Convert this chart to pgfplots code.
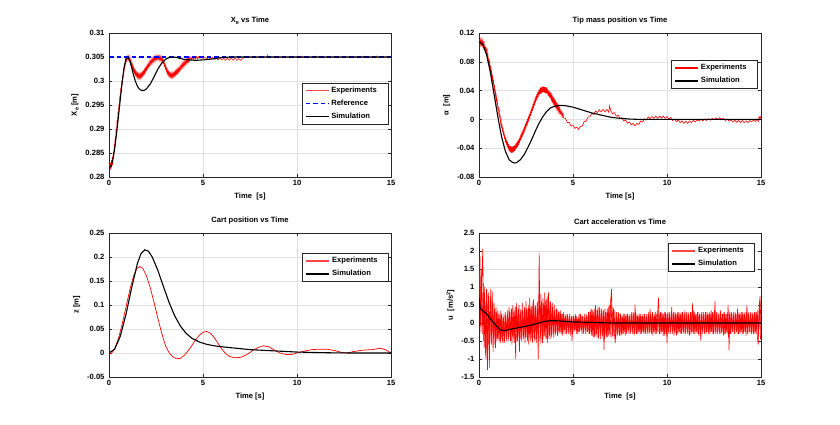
\documentclass[border=0pt]{standalone}
\usepackage{fontspec}
\setmainfont{Liberation Sans}
\usepackage{graphicx}
\usepackage{pgfplots}
\pgfplotsset{compat=1.18}
\definecolor{axgray}{RGB}{38,38,38}
\definecolor{gridgray}{RGB}{225,225,225}
\definecolor{mred}{RGB}{255,0,0}
\definecolor{lred}{RGB}{255,70,70}
\definecolor{mblue}{RGB}{0,0,255}
\pgfplotsset{
  mat/.style={
    scale only axis, width=282pt, height=144pt,
    xmin=0,xmax=15, xtick={0,5,10,15},
    axis line style={color=axgray, line width=0.8pt},
    tick style={color=axgray, line width=0.6pt},
    tick align=inside, major tick length=3pt,
    grid=major, major grid style={color=gridgray, line width=0.6pt},
    ticklabel style={font=\fontsize{7.6}{8}\selectfont\bfseries},
    yticklabel style={xshift=-1pt},
    /pgf/number format/assume math mode=true,
    label style={font=\fontsize{7.6}{8}\selectfont\bfseries},
    title style={font=\fontsize{7.6}{8}\selectfont\bfseries, yshift=-1pt},
    legend style={draw=axgray, line width=0.6pt, fill=white,
      font=\fontsize{7.6}{8}\selectfont\bfseries, cells={anchor=west},
      inner xsep=3pt, inner ysep=2pt, row sep=2pt},
    legend image code/.code={\draw[#1] (0pt,0pt) -- (23pt,0pt);},
    scaled ticks=false,
  },
  expl/.style={color=mred, line width=0.5pt},
  siml/.style={color=black, line width=1.1pt},
}
\newcommand{\lpad}{\hspace*{6pt}}
\newcommand{\sube}{\raisebox{-1.6pt}{\scalebox{0.72}{e}}}
\newcommand{\suptwo}{\raisebox{2.6pt}{\scalebox{0.72}{2}}}
\begin{document}
\begin{tikzpicture}
\path[use as bounding box] (0,0) rectangle (840pt,424pt);

% ---------------- X_e vs Time ----------------
\begin{axis}[mat, at={(109pt,247pt)}, anchor=south west,
  ymin=0.28, ymax=0.31,
  ytick={0.28,0.285,0.29,0.295,0.3,0.305,0.31},
  yticklabels={0.28,0.285,0.29,0.295,0.3,0.305,0.31},
  title={X\sube\ vs Time},
  xlabel={Time\ \ [s]}, ylabel={X\sube\ [m]},
  legend style={at={(0.99,0.653)}, anchor=north east}]
\addplot[expl, forget plot] coordinates {
(0.000,0.2820)(0.025,0.2828)(0.050,0.2816)(0.075,0.2830)(0.100,0.2815)(0.125,0.2835)(0.150,0.2820)(0.175,0.2842)(0.200,0.2825)(0.225,0.2852)
(0.250,0.2840)(0.275,0.2868)(0.300,0.2855)(0.325,0.2884)(0.350,0.2873)(0.375,0.2900)(0.400,0.2890)(0.425,0.2918)(0.450,0.2908)(0.475,0.2935)
(0.500,0.2926)(0.525,0.2953)(0.550,0.2944)(0.575,0.2970)(0.600,0.2961)(0.625,0.2986)(0.650,0.2976)(0.675,0.2999)(0.700,0.2990)(0.725,0.3012)
(0.750,0.3005)(0.775,0.3025)(0.800,0.3018)(0.825,0.3036)(0.850,0.3029)(0.875,0.3044)(0.900,0.3038)(0.925,0.3049)(0.950,0.3043)(0.975,0.3051)
(1.000,0.3046)(1.025,0.3052)(1.050,0.3044)(1.075,0.3050)(1.100,0.3041)(1.125,0.3047)(1.150,0.3036)(1.175,0.3042)(1.200,0.3031)(1.225,0.3037)
(1.250,0.3026)(1.275,0.3032)(1.300,0.3021)(1.325,0.3027)(1.350,0.3017)(1.375,0.3023)(1.400,0.3013)(1.425,0.3020)(1.450,0.3011)(1.475,0.3017)
(1.500,0.3008)(1.525,0.3016)(1.550,0.3007)(1.575,0.3015)(1.600,0.3006)(1.625,0.3014)(1.650,0.3006)(1.675,0.3015)(1.700,0.3007)(1.725,0.3016)
(1.750,0.3009)(1.775,0.3018)(1.800,0.3011)(1.825,0.3020)(1.850,0.3014)(1.875,0.3023)(1.900,0.3016)(1.925,0.3026)(1.950,0.3020)(1.975,0.3029)
(2.000,0.3023)(2.025,0.3032)(2.050,0.3026)(2.075,0.3035)(2.100,0.3029)(2.125,0.3038)(2.150,0.3031)(2.175,0.3041)(2.200,0.3034)(2.225,0.3043)
(2.250,0.3036)(2.275,0.3045)(2.300,0.3038)(2.325,0.3047)(2.350,0.3040)(2.375,0.3049)(2.400,0.3042)(2.425,0.3050)(2.450,0.3043)(2.475,0.3051)
(2.500,0.3044)(2.525,0.3052)(2.550,0.3045)(2.575,0.3052)(2.600,0.3046)(2.625,0.3052)(2.650,0.3045)(2.675,0.3052)(2.700,0.3044)(2.725,0.3051)
(2.750,0.3043)(2.775,0.3050)(2.800,0.3043)(2.825,0.3049)(2.850,0.3039)(2.875,0.3046)(2.900,0.3036)(2.925,0.3041)(2.950,0.3031)(2.975,0.3036)
(3.000,0.3026)(3.025,0.3031)(3.050,0.3021)(3.075,0.3026)(3.100,0.3016)(3.125,0.3022)(3.150,0.3013)(3.175,0.3019)(3.200,0.3010)(3.225,0.3017)
(3.250,0.3009)(3.275,0.3016)(3.300,0.3008)(3.325,0.3016)(3.350,0.3008)(3.375,0.3016)(3.400,0.3008)(3.425,0.3017)(3.450,0.3010)(3.475,0.3018)
(3.500,0.3011)(3.525,0.3020)(3.550,0.3013)(3.575,0.3022)(3.600,0.3015)(3.625,0.3024)(3.650,0.3016)(3.675,0.3025)(3.700,0.3018)(3.725,0.3027)
(3.750,0.3021)(3.775,0.3030)(3.800,0.3023)(3.825,0.3032)(3.850,0.3026)(3.875,0.3035)(3.900,0.3028)(3.925,0.3037)(3.950,0.3030)(3.975,0.3039)
(4.000,0.3032)(4.025,0.3041)(4.050,0.3034)(4.075,0.3043)(4.100,0.3036)(4.125,0.3045)(4.150,0.3038)(4.175,0.3047)(4.200,0.3039)(4.225,0.3048)
(4.250,0.3041)(4.275,0.3049)(4.300,0.3042)(4.350,0.3050)(4.400,0.3044)(4.450,0.3050)(4.500,0.3045)(4.550,0.3051)(4.600,0.3046)(4.650,0.3051)
(4.700,0.3046)(4.750,0.3051)(4.800,0.3047)(4.850,0.3051)(4.900,0.3047)(4.950,0.3051)(5.000,0.3047)(5.100,0.3050)(5.200,0.3046)(5.300,0.3050)
(5.400,0.3045)(5.500,0.3049)(5.600,0.3045)(5.700,0.3049)(5.800,0.3044)(5.900,0.3049)(6.000,0.3044)(6.100,0.3048)(6.200,0.3043)(6.300,0.3048)
(6.400,0.3043)(6.500,0.3048)(6.600,0.3043)(6.700,0.3048)(6.800,0.3043)(6.900,0.3047)(7.000,0.3043)(7.100,0.3047)(7.200,0.3050)(7.500,0.3050)
(8.000,0.3050)(8.400,0.3050)(8.420,0.3054)(8.450,0.3048)(8.500,0.3050)(9.000,0.3050)(10.200,0.3050)(10.220,0.3052)(10.250,0.3049)(11.000,0.3050)
(11.020,0.3052)(11.050,0.3050)(13.500,0.3050)(13.520,0.3052)(13.550,0.3050)(14.200,0.3050)(14.220,0.3052)(14.250,0.3050)(15.000,0.3050)
};
\addplot[color=mblue, line width=1.2pt, dash pattern=on 4.5pt off 3pt, forget plot] coordinates {(0,0.305)(15,0.305)};
\addplot[siml, forget plot] coordinates {
(0.0,0.2820)(0.1,0.2822)(0.2,0.2835)(0.3,0.2858)(0.4,0.2890)(0.5,0.2925)(0.6,0.2962)(0.7,0.2998)(0.8,0.3028)(0.9,0.3046)
(1.0,0.3050)(1.1,0.3043)(1.2,0.3029)(1.3,0.3013)(1.4,0.3000)(1.5,0.2990)(1.6,0.2984)(1.7,0.2981)(1.8,0.2980)(1.9,0.2981)
(2.0,0.2984)(2.2,0.2994)(2.4,0.3009)(2.6,0.3025)(2.8,0.3037)(3.0,0.3045)(3.2,0.3049)(3.4,0.3050)(3.6,0.3049)(3.8,0.3047)
(4.0,0.3045)(4.3,0.3044)(4.6,0.3043)(5.0,0.3044)(5.5,0.3046)(6.0,0.3049)(6.5,0.3050)(15.0,0.3050)
};
\addlegendimage{color=lred, line width=1.4pt}
\addlegendentry{Experiments\lpad}
\addlegendimage{color=mblue, line width=1.4pt, dash pattern=on 4.5pt off 3pt}
\addlegendentry{Reference\lpad}
\addlegendimage{color=black, line width=1.4pt}
\addlegendentry{Simulation\lpad}
\end{axis}

% ---------------- Tip mass position ----------------
\begin{axis}[mat, at={(479pt,247pt)}, anchor=south west,
  ymin=-0.08, ymax=0.12,
  ytick={-0.08,-0.04,0,0.04,0.08,0.12},
  yticklabels={-0.08,-0.04,0,0.04,0.08,0.12},
  title={Tip mass position vs Time},
  xlabel={Time [s]}, ylabel={α\ \ [m]},
  legend style={at={(0.989,0.8125)}, anchor=north east}]
\addplot[color=mred, line width=0.6pt, forget plot] coordinates {
(0.000,0.1070)(0.025,0.1099)(0.050,0.1048)(0.075,0.1106)(0.100,0.1035)(0.125,0.1094)(0.150,0.1023)(0.175,0.1091)(0.200,0.1030)(0.225,0.1086)
(0.250,0.1003)(0.275,0.1049)(0.300,0.0965)(0.325,0.1021)(0.350,0.0938)(0.375,0.1004)(0.400,0.0920)(0.425,0.0961)(0.450,0.0853)(0.475,0.0894)
(0.500,0.0795)(0.525,0.0846)(0.550,0.0748)(0.575,0.0789)(0.600,0.0680)(0.625,0.0716)(0.650,0.0613)(0.675,0.0659)(0.700,0.0555)(0.725,0.0591)
(0.750,0.0478)(0.775,0.0524)(0.800,0.0420)(0.825,0.0456)(0.850,0.0343)(0.875,0.0379)(0.900,0.0275)(0.925,0.0321)(0.950,0.0218)(0.975,0.0254)
(1.000,0.0140)(1.025,0.0188)(1.050,0.0085)(1.075,0.0123)(1.100,0.0010)(1.125,0.0058)(1.150,-0.0055)(1.175,-0.0018)(1.200,-0.0120)(1.225,-0.0065)
(1.250,-0.0170)(1.275,-0.0115)(1.300,-0.0220)(1.325,-0.0165)(1.350,-0.0270)(1.375,-0.0215)(1.400,-0.0320)(1.425,-0.0255)(1.450,-0.0350)(1.475,-0.0285)
(1.500,-0.0380)(1.525,-0.0315)(1.550,-0.0410)(1.575,-0.0345)(1.600,-0.0440)(1.625,-0.0363)(1.650,-0.0447)(1.675,-0.0370)(1.700,-0.0463)(1.725,-0.0377)
(1.750,-0.0460)(1.775,-0.0377)(1.800,-0.0463)(1.825,-0.0370)(1.850,-0.0447)(1.875,-0.0363)(1.900,-0.0440)(1.925,-0.0350)(1.950,-0.0420)(1.975,-0.0330)
(2.000,-0.0400)(2.025,-0.0310)(2.050,-0.0380)(2.075,-0.0290)(2.100,-0.0360)(2.125,-0.0266)(2.150,-0.0332)(2.175,-0.0238)(2.200,-0.0303)(2.225,-0.0209)
(2.250,-0.0275)(2.275,-0.0181)(2.300,-0.0247)(2.325,-0.0153)(2.350,-0.0218)(2.375,-0.0124)(2.400,-0.0190)(2.425,-0.0093)(2.450,-0.0157)(2.475,-0.0060)
(2.500,-0.0123)(2.525,-0.0027)(2.550,-0.0090)(2.575,0.0007)(2.600,-0.0057)(2.625,0.0040)(2.650,-0.0023)(2.675,0.0073)(2.700,0.0010)(2.725,0.0108)
(2.750,0.0047)(2.775,0.0145)(2.800,0.0083)(2.825,0.0182)(2.850,0.0120)(2.875,0.0218)(2.900,0.0157)(2.925,0.0255)(2.950,0.0193)(2.975,0.0292)
(3.000,0.0230)(3.025,0.0324)(3.050,0.0258)(3.075,0.0351)(3.100,0.0285)(3.125,0.0379)(3.150,0.0313)(3.175,0.0406)(3.200,0.0340)(3.225,0.0425)
(3.250,0.0350)(3.275,0.0445)(3.300,0.0360)(3.325,0.0445)(3.350,0.0370)(3.375,0.0455)(3.400,0.0380)(3.425,0.0458)(3.450,0.0375)(3.475,0.0453)
(3.500,0.0370)(3.525,0.0448)(3.550,0.0365)(3.575,0.0443)(3.600,0.0360)(3.625,0.0431)(3.650,0.0343)(3.675,0.0414)(3.700,0.0325)(3.725,0.0396)
(3.750,0.0308)(3.775,0.0379)(3.800,0.0290)(3.825,0.0349)(3.850,0.0278)(3.875,0.0326)(3.900,0.0255)(3.925,0.0304)(3.950,0.0233)(3.975,0.0281)
(4.000,0.0210)(4.025,0.0260)(4.050,0.0190)(4.075,0.0240)(4.100,0.0170)(4.125,0.0220)(4.150,0.0150)(4.175,0.0200)(4.200,0.0130)(4.225,0.0180)
(4.250,0.0110)(4.275,0.0160)(4.300,0.0090)(4.325,0.0130)(4.350,0.0080)(4.375,0.0110)(4.400,0.0060)(4.425,0.0090)(4.450,0.0040)(4.475,0.0070)
(4.500,0.0020)(4.60,0.0015)(4.70,-0.0045)(4.80,-0.004)(4.90,-0.0095)(5.00,-0.008)(5.10,-0.0125)(5.20,-0.0105)(5.30,-0.014)(5.40,-0.0095)
(5.50,-0.009)(5.60,-0.0025)(5.70,-0.0025)(5.80,0.0035)(5.90,0.0035)(6.00,0.0085)(6.10,0.0068)(6.20,0.0115)(6.30,0.0095)(6.40,0.0135)
(6.50,0.0105)(6.60,0.014)(6.70,0.0105)(6.80,0.014)(6.90,0.010)(6.95,0.019)(7.00,0.0125)(7.10,0.0078)(7.20,0.0095)(7.30,0.0045)
(7.40,0.006)(7.50,0.0012)(7.60,0.0025)(7.70,-0.002)(7.80,-0.001)(7.90,-0.0055)(8.00,-0.0035)(8.10,-0.0075)(8.20,-0.0055)(8.30,-0.009)
(8.40,-0.0055)(8.50,-0.007)(8.60,-0.002)(8.70,-0.0035)(8.80,0.0008)(8.90,-0.0008)(9.00,0.0035)(9.10,0.001)(9.20,0.004)(9.30,0.0015)
(9.40,0.0045)(9.50,0.0015)(9.60,0.0045)(9.70,0.002)(9.80,0.0045)(9.90,0.0015)(10.00,0.004)(10.10,0.0005)(10.20,0.0025)(10.30,-0.0015)
(10.40,0.0005)(10.50,-0.003)(10.60,-0.001)(10.70,-0.0045)(10.80,-0.002)(10.90,-0.0055)(11.00,-0.0025)(11.10,-0.0055)(11.20,-0.002)(11.30,-0.0045)
(11.40,-0.001)(11.50,-0.0035)(11.60,-0.0005)(11.70,-0.0025)(11.80,0.0005)(11.90,-0.002)(12.00,0.0005)(12.10,-0.0015)(12.20,0.001)(12.30,-0.001)
(12.40,0.0015)(12.50,-0.0005)(12.60,0.002)(12.70,0.000)(12.80,0.0025)(12.90,0.000)(13.00,0.0015)(13.10,-0.0015)(13.20,0.0005)(13.30,-0.0025)
(13.40,-0.0005)(13.50,-0.0035)(13.60,-0.001)(13.70,-0.004)(13.80,-0.0015)(13.90,-0.0045)(14.00,-0.0015)(14.10,-0.0045)(14.20,-0.002)(14.30,-0.0045)
(14.40,-0.0015)(14.50,-0.0035)(14.60,-0.001)(14.70,-0.003)(14.80,0.000)(14.85,-0.003)(14.90,0.004)(14.95,0.001)(15.00,0.005)
};
\addplot[siml, forget plot] coordinates {
(0.0,0.108)(0.2,0.104)(0.4,0.090)(0.6,0.066)(0.8,0.035)(1.0,0.004)(1.2,-0.024)(1.4,-0.044)(1.6,-0.056)(1.8,-0.060)
(1.9,-0.0605)(2.0,-0.060)(2.2,-0.056)(2.4,-0.049)(2.6,-0.039)(2.8,-0.028)(3.0,-0.016)(3.2,-0.005)(3.4,0.004)(3.6,0.011)
(3.8,0.016)(4.0,0.018)(4.3,0.0195)(4.6,0.019)(5.0,0.017)(5.5,0.013)(6.0,0.009)(6.5,0.006)(7.0,0.003)(7.5,0.0015)
(8.0,0.0005)(8.5,0.0)(15.0,0.0)
};
\addlegendimage{color=mred, line width=1.6pt}
\addlegendentry{Experiments\lpad}
\addlegendimage{color=black, line width=1.4pt}
\addlegendentry{Simulation\lpad}
\end{axis}

% ---------------- Cart position ----------------
\begin{axis}[mat, at={(109pt,47pt)}, anchor=south west,
  ymin=-0.05, ymax=0.25,
  ytick={-0.05,0,0.05,0.1,0.15,0.2,0.25},
  yticklabels={-0.05,0,0.05,0.1,0.15,0.2,0.25},
  title={Cart position vs Time},
  xlabel={Time [s]}, ylabel={z [m]},
  legend style={at={(0.993,0.861)}, anchor=north east}]
\addplot[expl, line width=0.7pt, forget plot] coordinates {
(0.0,0.000)(0.1,-0.002)(0.3,0.008)(0.5,0.030)(0.7,0.060)(0.9,0.095)(1.1,0.130)(1.3,0.160)(1.5,0.177)(1.65,0.180)
(1.8,0.176)(2.0,0.160)(2.2,0.135)(2.4,0.105)(2.6,0.072)(2.8,0.042)(3.0,0.016)(3.2,0.000)(3.4,-0.008)(3.6,-0.012)
(3.8,-0.011)(4.0,-0.005)(4.2,0.004)(4.4,0.015)(4.6,0.027)(4.8,0.037)(5.0,0.043)(5.2,0.045)(5.4,0.041)(5.6,0.032)
(5.8,0.020)(6.0,0.008)(6.2,-0.001)(6.4,-0.007)(6.7,-0.010)(7.0,-0.009)(7.3,-0.004)(7.6,0.004)(7.9,0.011)(8.2,0.015)
(8.5,0.013)(8.8,0.006)(9.1,0.000)(9.4,-0.003)(9.7,-0.003)(10.0,0.000)(10.4,0.004)(10.8,0.007)(11.2,0.008)(11.6,0.008)
(12.0,0.005)(12.4,0.001)(12.7,0.000)(13.0,0.003)(13.5,0.006)(14.0,0.007)(14.4,0.010)(14.7,0.007)(15.0,0.000)
};
\addplot[siml, forget plot] coordinates {
(0.0,0.000)(0.3,0.008)(0.6,0.035)(0.9,0.080)(1.2,0.135)(1.5,0.185)(1.7,0.207)(1.9,0.215)(2.1,0.212)(2.3,0.200)
(2.6,0.172)(2.9,0.138)(3.2,0.105)(3.5,0.077)(3.8,0.056)(4.1,0.041)(4.4,0.031)(4.8,0.023)(5.2,0.018)(5.6,0.015)
(6.0,0.013)(6.5,0.011)(7.0,0.009)(7.5,0.007)(8.0,0.006)(9.0,0.004)(10.0,0.002)(11.0,0.001)(12.0,0.0003)(13.0,0.0)(15.0,0.0)
};
\addlegendimage{color=lred, line width=1.4pt}
\addlegendentry{Experiments\lpad}
\addlegendimage{color=black, line width=1.4pt}
\addlegendentry{Simulation\lpad}
\end{axis}

% ---------------- Cart acceleration ----------------
\begin{axis}[mat, at={(479pt,47pt)}, anchor=south west,
  ymin=-1.5, ymax=2.5,
  ytick={-1.5,-1,-0.5,0,0.5,1,1.5,2,2.5},
  yticklabels={-1.5,-1,-0.5,0,0.5,1,1.5,2,2.5},
  title={Cart acceleration vs Time},
  xlabel={Time\ \ [s]}, ylabel={u\ \ [m/s\suptwo]},
  legend style={at={(0.979,0.93)}, anchor=north east}]
\addplot[expl, line width=0.6pt, forget plot] coordinates {
(0.00,0.70)(0.05,1.85)(0.10,-0.25)(0.15,1.20)(0.20,2.05)(0.25,-0.50)(0.30,1.00)(0.35,-0.90)(0.40,0.95)(0.45,-1.30)
(0.50,0.85)(0.55,-1.25)(0.60,0.75)(0.65,-0.55)(0.70,0.90)(0.75,-0.80)(0.80,0.55)(0.85,-0.60)(0.90,0.45)(0.95,-0.50)
(1.00,0.35)(1.05,-0.45)(1.10,0.20)(1.15,-0.55)(1.20,0.25)(1.25,-0.50)(1.30,0.15)(1.35,-0.55)(1.40,0.30)(1.45,-0.45)
(1.50,0.25)(1.55,-0.50)(1.60,0.45)(1.65,-0.40)(1.70,0.30)(1.75,-0.60)(1.80,0.50)(1.85,-0.45)(1.90,0.35)(1.95,-1.00)
(2.00,0.55)(2.05,-0.50)(2.10,0.40)(2.15,-0.80)(2.20,0.30)(2.25,-0.45)(2.30,0.55)(2.35,-0.40)(2.40,0.35)(2.45,-0.55)
(2.50,0.60)(2.55,-0.40)(2.60,0.40)(2.65,-0.60)(2.70,0.70)(2.75,-0.50)(2.80,0.45)(2.85,-0.55)(2.90,0.65)(2.95,-0.45)
(3.00,0.50)(3.05,-0.55)(3.10,0.55)(3.15,-1.00)(3.20,1.95)(3.25,-0.60)(3.30,0.80)(3.35,-0.50)(3.40,0.70)(3.45,-0.45)
(3.50,0.85)(3.55,-0.40)(3.60,0.65)(3.65,-0.55)(3.70,0.85)(3.75,-0.35)(3.80,0.60)(3.85,-0.40)(3.90,0.55)(3.95,-0.30)
(4.00,0.50)(4.05,-0.35)(4.10,0.40)(4.15,-0.25)(4.20,0.35)(4.25,-0.30)(4.30,0.30)(4.35,-0.25)(4.40,0.25)(4.45,-0.35)
(4.50,0.30)(4.55,-0.20)(4.60,0.20)(4.65,-0.30)(4.70,0.25)(4.75,-0.25)(4.80,0.20)(4.85,-0.35)(4.90,0.15)(4.95,-0.50)
(5.00,0.20)(5.05,-0.25)(5.10,0.15)(5.15,-0.20)(5.20,0.20)(5.25,-0.30)(5.30,0.15)(5.35,-0.25)(5.40,0.25)(5.45,-0.20)
(5.50,0.20)(5.55,-0.30)(5.60,0.15)(5.65,-0.20)(5.70,0.25)(5.75,-0.25)(5.80,0.20)(5.85,-0.30)(5.90,0.30)(5.95,-0.25)
(6.00,0.40)(6.05,-0.35)(6.10,0.30)(6.15,-0.40)(6.20,0.50)(6.25,-0.30)(6.30,0.35)(6.35,-0.45)(6.40,0.45)(6.45,-0.35)
(6.50,0.35)(6.55,-0.40)(6.60,0.30)(6.65,-0.75)(6.70,0.40)(6.75,-0.35)(6.80,0.30)(6.85,-0.40)(6.90,0.45)(6.95,-0.30)
(7.00,0.55)(7.05,0.95)(7.10,-0.35)(7.15,0.40)(7.20,-0.30)(7.25,-0.55)(7.30,0.30)(7.35,-0.35)(7.40,0.25)(7.45,-0.30)
(7.50,0.25)(7.55,-0.35)(7.60,0.20)(7.65,-0.30)(7.70,0.25)(7.75,-0.25)(7.80,0.20)(7.85,-0.30)(7.90,0.25)(7.95,-0.20)
(8.00,0.20)(8.05,-0.30)(8.10,0.25)(8.15,-0.25)(8.20,0.30)(8.25,-0.35)(8.30,0.50)(8.35,-0.25)(8.40,0.25)(8.45,-0.30)
(8.50,0.20)(8.55,-0.25)(8.60,0.25)(8.65,-0.30)(8.70,0.20)(8.75,-0.25)(8.80,0.25)(8.85,-0.30)(8.90,0.20)(8.95,-0.25)
(9.00,0.25)(9.05,-0.30)(9.10,0.40)(9.15,-0.25)(9.20,0.25)(9.25,-0.35)(9.30,0.20)(9.35,-0.25)(9.40,0.30)(9.45,-0.30)
(9.50,0.25)(9.55,0.70)(9.60,-0.30)(9.65,0.30)(9.70,-0.25)(9.75,0.25)(9.80,-0.35)(9.85,0.30)(9.90,-0.30)(9.95,0.25)
(10.00,-0.55)(10.05,0.30)(10.10,-0.30)(10.15,0.25)(10.20,-0.25)(10.25,0.45)(10.30,-0.30)(10.35,0.30)(10.40,-0.25)(10.45,0.25)
(10.50,-0.35)(10.55,0.30)(10.60,-0.25)(10.65,0.25)(10.70,-0.30)(10.75,0.30)(10.80,-0.25)(10.85,0.25)(10.90,-0.30)(10.95,0.35)
(11.00,-0.25)(11.05,0.30)(11.10,-0.30)(11.15,0.25)(11.20,-0.35)(11.25,0.30)(11.30,-0.25)(11.35,0.55)(11.40,-0.30)(11.45,0.30)
(11.50,-0.25)(11.55,0.25)(11.60,-0.30)(11.65,0.30)(11.70,-0.35)(11.75,0.25)(11.80,-0.50)(11.85,0.30)(11.90,-0.25)(11.95,0.25)
(12.00,-0.30)(12.05,0.30)(12.10,-0.25)(12.15,0.25)(12.20,-0.30)(12.25,0.30)(12.30,-0.25)(12.35,0.35)(12.40,-0.30)(12.45,0.30)
(12.50,-0.25)(12.55,0.60)(12.60,-0.30)(12.65,0.30)(12.70,-0.25)(12.75,0.25)(12.80,-0.30)(12.85,0.35)(12.90,-0.25)(12.95,0.25)
(13.00,-0.35)(13.05,0.30)(13.10,-0.30)(13.15,0.25)(13.20,-0.30)(13.25,0.50)(13.30,-0.75)(13.35,0.30)(13.40,-0.30)(13.45,0.25)
(13.50,-0.25)(13.55,0.30)(13.60,-0.30)(13.65,0.25)(13.70,-0.25)(13.75,0.40)(13.80,-0.30)(13.85,0.25)(13.90,-0.25)(13.95,0.30)
(14.00,-0.30)(14.05,0.25)(14.10,-0.25)(14.15,0.30)(14.20,-0.35)(14.25,0.50)(14.30,-0.30)(14.35,0.25)(14.40,-0.25)(14.45,0.30)
(14.50,-0.30)(14.55,0.25)(14.60,-0.30)(14.65,0.30)(14.70,-0.25)(14.75,0.30)(14.80,-0.35)(14.85,-0.60)(14.90,0.45)(14.95,0.75)
(15.00,-0.20)
};
\addplot[expl, line width=0.6pt, forget plot] coordinates {
(0.025,1.30)(0.075,-0.10)(0.125,1.50)(0.175,-0.30)(0.225,1.10)(0.275,-0.70)(0.325,0.60)(0.375,-1.00)(0.425,0.80)(0.475,-0.60)
(0.525,0.70)(0.575,-0.40)(0.625,0.95)(0.675,-0.60)(0.725,0.60)(0.775,-0.45)(0.825,0.40)(0.875,-0.70)(0.925,0.30)(0.975,-0.45)
(1.025,0.25)(1.075,-0.50)(1.125,0.35)(1.175,-0.45)(1.225,0.20)(1.275,-0.55)(1.325,0.25)(1.375,-0.45)(1.425,0.20)(1.475,-0.50)
(1.525,0.35)(1.575,-0.45)(1.625,0.30)(1.675,-0.50)(1.725,0.40)(1.775,-0.40)(1.825,0.30)(1.875,-0.55)(1.925,0.45)(1.975,-0.45)
(2.025,0.35)(2.075,-0.40)(2.125,0.50)(2.175,-0.45)(2.225,0.40)(2.275,-0.50)(2.325,0.35)(2.375,-0.45)(2.425,0.45)(2.475,-0.40)
(2.525,0.40)(2.575,-0.50)(2.625,0.50)(2.675,-0.40)(2.725,0.40)(2.775,-0.45)(2.825,0.55)(2.875,-0.40)(2.925,0.45)(2.975,-0.50)
(3.025,0.45)(3.075,-0.45)(3.125,0.60)(3.175,-0.50)(3.225,0.90)(3.275,-0.40)(3.325,0.60)(3.375,-0.55)(3.425,0.55)(3.475,-0.35)
(3.525,0.60)(3.575,-0.45)(3.625,0.75)(3.675,-0.40)(3.725,0.55)(3.775,-0.45)(3.825,0.50)(3.875,-0.35)(3.925,0.45)(3.975,-0.40)
(4.025,0.35)(4.075,-0.30)(4.125,0.40)(4.175,-0.35)(4.225,0.30)(4.275,-0.25)(4.325,0.35)(4.375,-0.30)(4.425,0.25)(4.475,-0.25)
(4.525,0.20)(4.575,-0.30)(4.625,0.25)(4.675,-0.25)(4.725,0.20)(4.775,-0.30)(4.825,0.25)(4.875,-0.25)(4.925,0.20)(4.975,-0.30)
(5.025,0.20)(5.075,-0.20)(5.125,0.25)(5.175,-0.30)(5.225,0.15)(5.275,-0.25)(5.325,0.25)(5.375,-0.20)(5.425,0.20)(5.475,-0.30)
(5.525,0.20)(5.575,-0.25)(5.625,0.25)(5.675,-0.30)(5.725,0.20)(5.775,-0.25)(5.825,0.30)(5.875,-0.30)(5.925,0.35)(5.975,-0.35)
(6.025,0.35)(6.075,-0.40)(6.125,0.40)(6.175,-0.35)(6.225,0.35)(6.275,-0.40)(6.325,0.45)(6.375,-0.35)(6.425,0.40)(6.475,-0.45)
(6.525,0.40)(6.575,-0.35)(6.625,0.35)(6.675,-0.45)(6.725,0.30)(6.775,-0.40)(6.825,0.40)(6.875,-0.35)(6.925,0.50)(6.975,-0.40)
(7.025,0.70)(7.075,-0.40)(7.125,0.45)(7.175,-0.35)(7.225,0.35)(7.275,-0.45)(7.325,0.30)(7.375,-0.30)(7.425,0.30)(7.475,-0.35)
(7.525,0.25)(7.575,-0.30)(7.625,0.20)(7.675,-0.30)(7.725,0.25)(7.775,-0.35)(7.825,0.25)(7.875,-0.25)(7.925,0.20)(7.975,-0.30)
(8.025,0.25)(8.075,-0.25)(8.125,0.30)(8.175,-0.30)(8.225,0.25)(8.275,-0.30)(8.325,0.30)(8.375,-0.30)(8.425,0.20)(8.475,-0.25)
(8.525,0.25)(8.575,-0.30)(8.625,0.20)(8.675,-0.25)(8.725,0.25)(8.775,-0.30)(8.825,0.20)(8.875,-0.25)(8.925,0.25)(8.975,-0.30)
(9.025,0.30)(9.075,-0.25)(9.125,0.25)(9.175,-0.30)(9.225,0.30)(9.275,-0.25)(9.325,0.25)(9.375,-0.30)(9.425,0.25)(9.475,-0.25)
(9.525,0.35)(9.575,-0.25)(9.625,0.25)(9.675,-0.30)(9.725,0.30)(9.775,-0.25)(9.825,0.25)(9.875,-0.35)(9.925,0.30)(9.975,-0.30)
(10.025,0.25)(10.075,-0.25)(10.125,0.30)(10.175,-0.30)(10.225,0.25)(10.275,-0.25)(10.325,0.25)(10.375,-0.35)(10.425,0.30)(10.475,-0.30)
(10.525,0.25)(10.575,-0.30)(10.625,0.30)(10.675,-0.25)(10.725,0.25)(10.775,-0.30)(10.825,0.30)(10.875,-0.25)(10.925,0.25)(10.975,-0.30)
(11.025,0.25)(11.075,-0.25)(11.125,0.30)(11.175,-0.30)(11.225,0.25)(11.275,-0.30)(11.325,0.30)(11.375,-0.25)(11.425,0.35)(11.475,-0.30)
(11.525,0.25)(11.575,-0.25)(11.625,0.30)(11.675,-0.30)(11.725,0.25)(11.775,-0.35)(11.825,0.25)(11.875,-0.30)(11.925,0.30)(11.975,-0.25)
(12.025,0.25)(12.075,-0.30)(12.125,0.30)(12.175,-0.25)(12.225,0.25)(12.275,-0.30)(12.325,0.25)(12.375,-0.25)(12.425,0.30)(12.475,-0.30)
(12.525,0.35)(12.575,-0.25)(12.625,0.30)(12.675,-0.30)(12.725,0.25)(12.775,-0.25)(12.825,0.30)(12.875,-0.30)(12.925,0.25)(12.975,-0.25)
(13.025,0.30)(13.075,-0.30)(13.125,0.25)(13.175,-0.25)(13.225,0.30)(13.275,-0.40)(13.325,0.25)(13.375,-0.30)(13.425,0.30)(13.475,-0.25)
(13.525,0.25)(13.575,-0.30)(13.625,0.30)(13.675,-0.25)(13.725,0.25)(13.775,-0.30)(13.825,0.30)(13.875,-0.30)(13.925,0.25)(13.975,-0.25)
(14.025,0.30)(14.075,-0.30)(14.125,0.25)(14.175,-0.25)(14.225,0.30)(14.275,-0.30)(14.325,0.30)(14.375,-0.25)(14.425,0.25)(14.475,-0.30)
(14.525,0.30)(14.575,-0.25)(14.625,0.25)(14.675,-0.30)(14.725,0.30)(14.775,-0.30)(14.825,0.35)(14.875,-0.40)(14.925,0.55)(14.975,-0.45)
};
\addplot[siml, forget plot] coordinates {
(0.00,0.70)(0.05,0.45)(0.10,0.38)(0.20,0.34)(0.30,0.30)(0.40,0.26)(0.50,0.19)(0.60,0.12)(0.70,0.06)(0.80,0.00)
(0.90,-0.07)(1.00,-0.12)(1.10,-0.17)(1.20,-0.20)(1.30,-0.21)(1.40,-0.21)(1.50,-0.20)(1.60,-0.18)(1.80,-0.16)(2.00,-0.14)
(2.50,-0.09)(3.00,-0.03)(3.30,0.02)(3.60,0.055)(3.90,0.065)(4.20,0.06)(4.60,0.045)(5.00,0.03)(5.50,0.025)(6.00,0.015)
(6.50,0.008)(7.00,0.0)(15.00,0.0)
};
\addlegendimage{color=lred, line width=1.4pt}
\addlegendentry{Experiments\lpad}
\addlegendimage{color=black, line width=1.4pt}
\addlegendentry{Simulation\lpad}
\end{axis}
\end{tikzpicture}
\end{document}
